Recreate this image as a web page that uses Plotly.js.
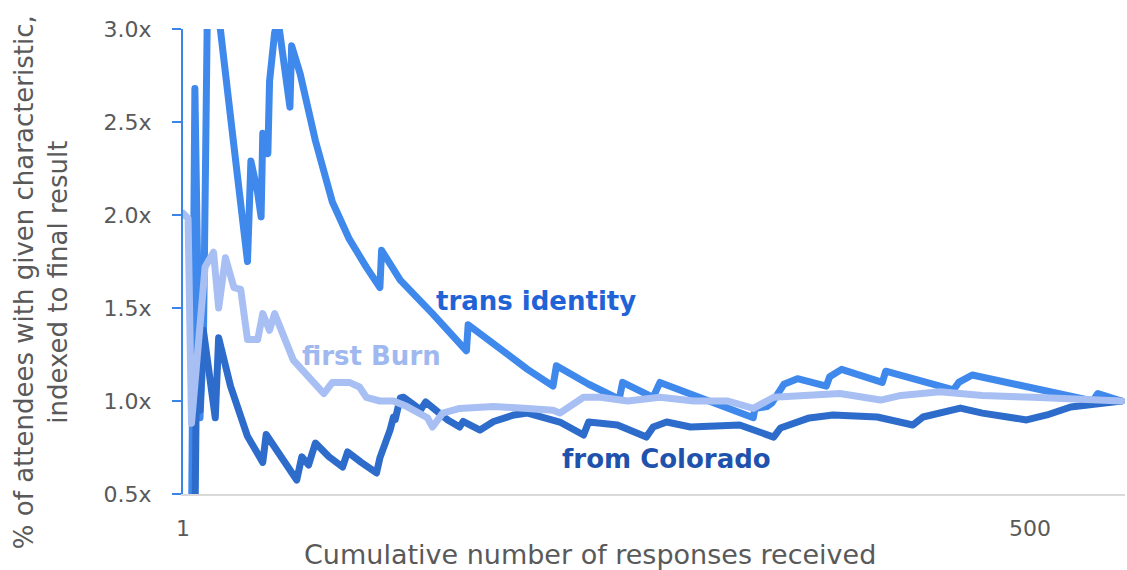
<!DOCTYPE html>
<html>
<head>
<meta charset="utf-8">
<script src="https://cdn.plot.ly/plotly-3.0.1.min.js"></script>
<style>
  html, body { margin: 0; padding: 0; background: #fff; }
  #chart { width: 1127px; height: 570px; }
  #chart path.js-line { stroke-linejoin: round; stroke-linecap: round; }
</style>
</head>
<body>
<div id="chart"></div>
<script>
// cumulative responses (x) vs share of attendees, indexed to the final result (y)
var transX = [1, 6, 8, 11, 13, 16, 20, 23, 30, 39, 41, 45, 47, 48, 51, 52, 55, 57, 64, 65,
  70, 79, 89, 99, 109, 117, 118, 129, 148, 168, 169, 188, 204, 219, 221, 240, 258, 260, 278, 282,
  306, 337, 338, 345, 348, 355, 363, 380, 382, 389, 413, 415, 455, 458, 466, 500, 537, 540, 554]
var transY = [0.3, 0.3, 2.68, 0.91, 1.3, 3.6, 3.6, 3.0, 2.45, 1.75, 2.29, 2.12, 1.99, 2.44, 2.33, 2.72, 2.98, 3.05, 2.58, 2.91,
  2.76, 2.40, 2.07, 1.87, 1.72, 1.61, 1.81, 1.65, 1.47, 1.27, 1.41, 1.28, 1.17, 1.08, 1.19, 1.09, 1.01, 1.10, 1.02, 1.10,
  1.02, 0.91, 0.96, 0.97, 0.99, 1.09, 1.12, 1.08, 1.13, 1.17, 1.10, 1.16, 1.06, 1.10, 1.14, 1.07, 1.00, 1.04, 1.00]

var burnX = [1, 4, 6, 11, 14, 19, 22, 26, 31, 35, 39, 45, 48, 52, 55, 66, 78, 84, 89, 99,
  105, 109, 117, 125, 133, 145, 148, 154, 164, 184, 204, 219, 223, 237, 247, 263, 282, 302, 322, 337,
  349, 369, 388, 412, 424, 447, 472, 502, 531, 554]
var burnY = [2.01, 1.98, 0.88, 1.47, 1.72, 1.80, 1.50, 1.77, 1.61, 1.60, 1.33, 1.33, 1.47, 1.38, 1.47, 1.22, 1.10, 1.04, 1.10, 1.10,
  1.075, 1.02, 1.00, 1.00, 0.97, 0.91, 0.86, 0.935, 0.96, 0.97, 0.96, 0.95, 0.935, 1.02, 1.02, 1.00, 1.02, 1.00, 1.00, 0.96,
  1.02, 1.03, 1.04, 1.005, 1.03, 1.05, 1.03, 1.02, 1.005, 1.00]

var coloX = [1, 8, 9, 11, 13, 20, 22, 29, 39, 48, 50, 59, 68, 71, 75, 79, 87, 95, 98, 106,
  115, 117, 121, 123, 125, 126, 129, 131, 141, 144, 157, 164, 166, 176, 184, 196, 204, 223, 237, 240,
  257, 274, 278, 286, 300, 329, 349, 353, 370, 384, 410, 431, 437, 459, 472, 498, 510, 524, 534, 554]
var coloY = [0.3, 0.3, 1.2, 0.95, 1.38, 0.91, 1.34, 1.08, 0.81, 0.67, 0.82, 0.70, 0.575, 0.70, 0.656, 0.774, 0.70, 0.645, 0.726, 0.67,
  0.613, 0.694, 0.79, 0.844, 0.914, 0.90, 1.016, 1.02, 0.952, 0.995, 0.898, 0.86, 0.89, 0.844, 0.89, 0.925, 0.935, 0.887, 0.817, 0.887,
  0.871, 0.806, 0.86, 0.887, 0.86, 0.871, 0.806, 0.855, 0.909, 0.925, 0.914, 0.871, 0.914, 0.962, 0.935, 0.898, 0.925, 0.968, 0.978, 1.00]

var yTicks = [0.5, 1.0, 1.5, 2.0, 2.5, 3.0]
var yTickText = ['0.5x', '1.0x', '1.5x', '2.0x', '2.5x', '3.0x']
var xTicks = [1, 500]

var gray = '#595959'
var font = 'DejaVu Sans, Liberation Sans, Arial, sans-serif'

var data = [
  {x: transX, y: transY, type: 'scatter', mode: 'lines', name: 'trans identity',
    line: {color: '#3f88ec', width: 7}},
  {x: coloX, y: coloY, type: 'scatter', mode: 'lines', name: 'from Colorado',
    line: {color: '#2e6ccb', width: 7}},
  {x: burnX, y: burnY, type: 'scatter', mode: 'lines', name: 'first Burn',
    line: {color: '#a8bff4', width: 7}}
]

var layout = {
  width: 1127,
  height: 570,
  margin: {l: 183, r: 2, t: 29, b: 76},
  paper_bgcolor: '#fff',
  plot_bgcolor: '#fff',
  showlegend: false,
  font: {family: font, color: gray, size: 22},
  xaxis: {
    range: [1, 556],
    tickvals: xTicks,
    ticktext: ['1', '500'],
    showgrid: false,
    zeroline: false,
    showline: true,
    linecolor: '#d9d9d9',
    linewidth: 2,
    ticks: '',
    ticklabelstandoff: 14,
    tickfont: {size: 22, color: gray}
  },
  yaxis: {
    range: [0.5, 3.0],
    tickvals: yTicks,
    ticktext: yTickText,
    showgrid: false,
    zeroline: false,
    showline: true,
    linecolor: '#3a86e8',
    linewidth: 2,
    ticks: 'outside',
    ticklen: 9,
    tickwidth: 2,
    tickcolor: '#3a86e8',
    ticklabelstandoff: 16,
    tickfont: {size: 22, color: gray}
  },
  annotations: [
    {xref: 'paper', yref: 'paper', x: (590 - 183) / 942, y: -0.13, xanchor: 'center', yanchor: 'middle',
      text: 'Cumulative number of responses received', showarrow: false,
      font: {size: 27, color: gray}},
    {xref: 'paper', yref: 'paper', x: -0.15, y: 0.455, xanchor: 'center', yanchor: 'middle',
      textangle: -90, text: '% of attendees with given characteristic,<br>indexed to final result',
      showarrow: false, font: {size: 26, color: gray}},
    {x: 209, y: 1.54, text: '<b>trans identity</b>', showarrow: false,
      font: {size: 26, color: '#1f63d6'}},
    {x: 112, y: 1.24, text: '<b>first Burn</b>', showarrow: false,
      font: {size: 26, color: '#9fb9f0'}},
    {x: 286, y: 0.69, text: '<b>from Colorado</b>', showarrow: false,
      font: {size: 26, color: '#1f52ad'}}
  ]
}

Plotly.newPlot('chart', data, layout, {displayModeBar: false, staticPlot: true})
</script>
</body>
</html>
